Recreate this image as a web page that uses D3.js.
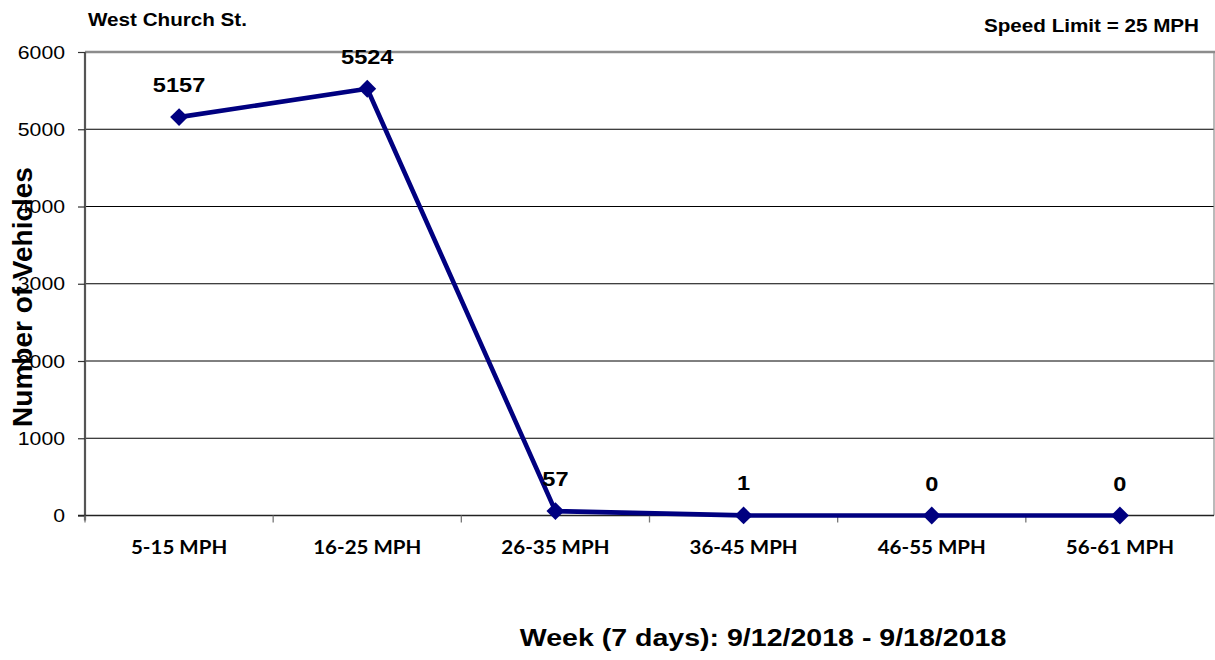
<!DOCTYPE html>
<html><head><meta charset="utf-8">
<script src="https://cdn.jsdelivr.net/npm/d3@7"></script>
<style>body{margin:0;background:#fff}svg{display:block}</style>
</head><body>
<svg id="c" width="1215" height="660"></svg>
<script>
const categories = ["5-15 MPH","16-25 MPH","26-35 MPH","36-45 MPH","46-55 MPH","56-61 MPH"];
const vehicles = [5157, 5524, 57, 1, 0, 0];
const yTicks = [0, 1000, 2000, 3000, 4000, 5000, 6000];
const chartTitle = "West Church St.";
const speedNote = "Speed Limit = 25 MPH";
const yTitle = "Number of Vehicles";
const xTitle = "Week (7 days): 9/12/2018 - 9/18/2018";

const SX = 1.18;
const svg = d3.select("#c");
const L = 85, R = 1214, T = 52, B = 515.5;
const x = d3.scaleBand().domain(categories).range([L, R]).paddingInner(0).paddingOuter(0);
const y = d3.scaleLinear().domain([0, 6000]).range([B, T]);
const cx = c => x(c) + x.bandwidth() / 2;

function txt(g, xx, yy, s, o) {
  return g.append("text")
    .attr("transform", `translate(${xx},${yy}) scale(${o.sx || SX},1)`)
    .attr("text-anchor", o.anchor || "middle")
    .attr("font-family", o.family || "'Liberation Sans', Arial, sans-serif")
    .attr("font-weight", o.weight || "bold")
    .attr("font-size", o.size)
    .attr("fill", "#000")
    .text(s);
}

// gridlines
svg.append("g").selectAll("line").data(yTicks.filter(d => d > 0 && d < 6000)).join("line")
  .attr("x1", L).attr("x2", R).attr("y1", d => y(d)).attr("y2", d => y(d))
  .attr("stroke", "#000").attr("stroke-width", 1);
// top border
svg.append("line").attr("x1", L).attr("x2", R + 1).attr("y1", y(6000)).attr("y2", y(6000))
  .attr("stroke", "#8c8c8c").attr("stroke-width", 2.5);
// right border
svg.append("line").attr("x1", R).attr("x2", R).attr("y1", T).attr("y2", B)
  .attr("stroke", "#8c8c8c").attr("stroke-width", 1.2);

// y axis
const yAxis = d3.axisLeft(y).tickValues(yTicks).tickSize(7).tickFormat(d3.format("d"));
const ya = svg.append("g").attr("transform", `translate(${L},0)`).call(yAxis);
ya.select(".domain").attr("stroke", "#555").attr("stroke-width", 2.2).attr("d", `M0,${T}V${B + 5}`);
ya.selectAll(".tick line").attr("stroke", "#333").attr("stroke-width", 1.2);
ya.selectAll(".tick text").remove();
yTicks.forEach(v => {
  txt(svg, 65, y(v) + 6.5, String(v), {anchor: "end", weight: "normal", size: 18});
});

// x axis
const xAxis = d3.axisBottom(x).tickSize(0).tickFormat("");
const xa = svg.append("g").attr("transform", `translate(0,${B})`).call(xAxis);
xa.select(".domain").attr("stroke", "#222").attr("stroke-width", 1.3).attr("d", `M${L - 7},0H${R}`);
xa.selectAll(".tick").remove();
const bounds = categories.map(c => x(c));
svg.append("g").selectAll("line").data(bounds).join("line")
  .attr("x1", d => d).attr("x2", d => d).attr("y1", B).attr("y2", B + 7)
  .attr("stroke", "#777").attr("stroke-width", 1.3);
categories.forEach(c => {
  txt(svg, cx(c), 553.5, c, {weight: "bold", size: 19, family: "Lato, 'Open Sans', sans-serif", sx: 1.08});
});

// line
const line = d3.line().x((d, i) => cx(categories[i])).y(d => y(d));
svg.append("path").datum(vehicles).attr("d", line)
  .attr("fill", "none").attr("stroke", "#000080").attr("stroke-width", 4.6).attr("stroke-linejoin", "round");
svg.append("g").selectAll("path").data(vehicles).join("path")
  .attr("d", d3.symbol(d3.symbolSquare, 160)())
  .attr("transform", (d, i) => `translate(${cx(categories[i])},${y(d)}) rotate(45)`)
  .attr("fill", "#000080");

// data labels
vehicles.forEach((v, i) => {
  txt(svg, cx(categories[i]), y(v) - 25, String(v), {size: 20});
});

// titles
txt(svg, 88, 26, chartTitle, {anchor: "start", size: 17.5});
txt(svg, 1199, 31.5, speedNote, {anchor: "end", size: 17.5});
txt(svg, 763, 646, xTitle, {size: 24.2});
svg.append("text")
  .attr("transform", `translate(22,297) rotate(-90)`)
  .attr("text-anchor", "middle").attr("dy", "0.36em")
  .attr("font-family", "'Liberation Sans', Arial, sans-serif").attr("font-weight", "bold")
  .attr("font-size", 28).text(yTitle);
</script>
</body></html>
